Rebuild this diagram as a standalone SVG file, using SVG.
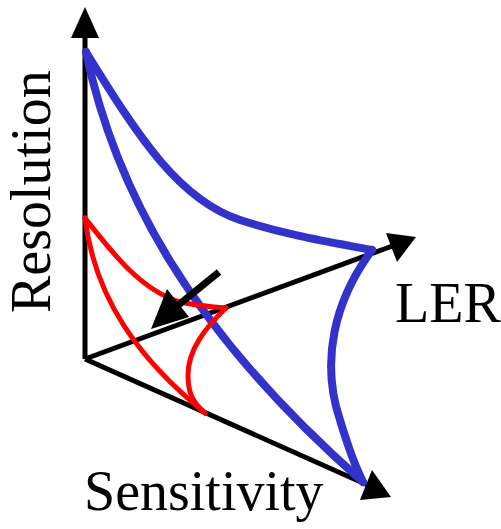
<svg xmlns="http://www.w3.org/2000/svg" width="501" height="529" viewBox="0 0 501 529">
<style>
.axis{stroke:#000;stroke-width:5;fill:none}
.blue{stroke:#3333cc;stroke-width:8;fill:none;stroke-linecap:round;stroke-linejoin:round}
.red{stroke:#ff0000;stroke-width:5;fill:none;stroke-linecap:round;stroke-linejoin:round}
.lbl{font-family:"Liberation Serif","Times New Roman",serif;font-size:56px;fill:#000}
</style>
<rect width="501" height="529" fill="#fff"/>
<g id="axes">
<line class="axis" x1="85" y1="359" x2="85" y2="36"/>
<polygon points="85,7 71,38 99,38" fill="#000"/>
<line class="axis" x1="85" y1="359" x2="395" y2="245"/>
<polygon points="416,237 386,233 397,262" fill="#000"/>
<line class="axis" x1="85" y1="359" x2="372" y2="487"/>
<polygon points="391,497 372,470 360,500" fill="#000"/>
</g>
<g id="blue-surface">
<path class="blue" d="M86,52 C140,140 180,200 240,220 C290,236 330,242 372,250"/>
<path class="blue" d="M86,52 C115,190 190,330 363,482"/>
<path class="blue" d="M372,250 C335,300 320,360 340,420 C346,440 352,460 363,482"/>
</g>
<g id="red-surface">
<path class="red" d="M85,218 C110,250 140,290 180,302 C200,306 212,307 226,308"/>
<path class="red" d="M85,218 C95,300 140,360 205,413"/>
<path class="red" d="M226,308 C205,328 188,350 188,375 C188,392 192,402 205,413"/>
</g>
<g id="arrow">
<line x1="219" y1="272" x2="176" y2="307" stroke="#000" stroke-width="7"/>
<polygon points="151,329 167,289 189,317" fill="#000"/>
</g>
<g id="labels">
<text class="lbl" transform="translate(50,313) rotate(-90)">Resolution</text>
<text class="lbl" x="395" y="322">LER</text>
<text class="lbl" x="84" y="510">Sensitivity</text>
</g>
</svg>
